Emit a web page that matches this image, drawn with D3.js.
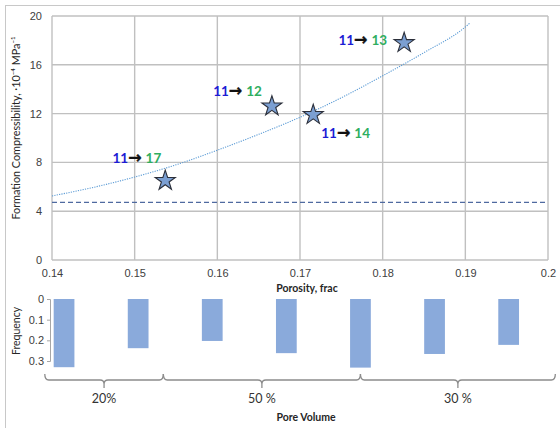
<!DOCTYPE html>
<html>
<head>
<meta charset="utf-8">
<script src="https://cdn.jsdelivr.net/npm/d3@7"></script>
<style>
  html, body { margin: 0; padding: 0; background: #fff; }
  svg { display: block; font-family: Lato, "Open Sans", "Liberation Sans", sans-serif; }
</style>
</head>
<body>
<svg id="chart" width="560" height="428"></svg>
<script>
// ---- data ----
const porosityTicks = [0.14, 0.15, 0.16, 0.17, 0.18, 0.19, 0.2];
const porosityTickLabels = ["0.14", "0.15", "0.16", "0.17", "0.18", "0.19", "0.2"];
const compTicks = [0, 4, 8, 12, 16, 20];

// measured samples (stars)
const samplePorosity = [0.1537, 0.1666, 0.1716, 0.1826];
const sampleComp = [6.5, 12.6, 11.9, 17.8];
const sampleFrom = ["11", "11", "11", "11"];
const sampleTo = ["17", "12", "14", "13"];

// trend curve
const trendPorosity = [0.14, 0.145, 0.15, 0.155, 0.16, 0.165, 0.17, 0.175, 0.18, 0.185, 0.19, 0.1906];
const trendComp = [5.25, 5.95, 6.8, 7.8, 9.0, 10.3, 11.7, 13.3, 15.1, 17.0, 19.1, 19.45];

// reference level
const baselineComp = 4.73;

// frequency histogram
const freqBins = ["1", "2", "3", "4", "5", "6", "7"];
const freqValues = [0.33, 0.238, 0.203, 0.262, 0.332, 0.266, 0.222];
const freqTicks = [0, 0.1, 0.2, 0.3];
const freqTickLabels = ["0", "0.1", "0.2", "0.3"];

// pore volume groups
const poreGroups = ["20%", "50 %", "30 %"];

// ---- layout ----
const svg = d3.select("#chart");
const gridColor = "#c0c0c0";
const textColor = "#404040";

// outer frame
svg.append("rect").attr("x", 5.5).attr("y", 5.5).attr("width", 600).attr("height", 600)
  .attr("fill", "none").attr("stroke", "#c8c8c8").attr("stroke-width", 1);

const x = d3.scaleLinear().domain([0.14, 0.2]).range([52, 548]);
const y = d3.scaleLinear().domain([0, 20]).range([260, 16]);

// grid
const grid = svg.append("g");
grid.selectAll("line.v").data(porosityTicks).join("line")
  .attr("x1", d => x(d)).attr("x2", d => x(d)).attr("y1", y(20)).attr("y2", y(0))
  .attr("stroke", gridColor).attr("stroke-width", 1.4);
grid.selectAll("line.h").data(compTicks).join("line")
  .attr("x1", x(0.14)).attr("x2", x(0.2)).attr("y1", d => y(d)).attr("y2", d => y(d))
  .attr("stroke", gridColor).attr("stroke-width", 1.4);

// axes (labels only)
const xAxis = d3.axisBottom(x).tickValues(porosityTicks)
  .tickFormat((d, i) => porosityTickLabels[i]).tickSize(0).tickPadding(9);
const gx = svg.append("g").attr("transform", `translate(0,${y(0)})`).call(xAxis);
gx.select(".domain").remove();
gx.selectAll("text").attr("fill", textColor).attr("font-size", 11);

const yAxis = d3.axisLeft(y).tickValues(compTicks).tickSize(0).tickPadding(10);
const gy = svg.append("g").attr("transform", `translate(${x(0.14)},0)`).call(yAxis);
gy.select(".domain").remove();
gy.selectAll("text").attr("fill", textColor).attr("font-size", 11);

// axis titles
svg.append("text").attr("x", 307).attr("y", 292).attr("text-anchor", "middle")
  .attr("font-size", 10.5).attr("font-weight", "bold").attr("fill", "#262626")
  .text("Porosity, frac");
svg.append("text").attr("transform", "translate(20,128) rotate(-90)")
  .attr("text-anchor", "middle").attr("font-size", 10.8).attr("fill", "#262626")
  .text("Formation Compressibility, ·10⁻⁴ MPa⁻¹");

// reference dashed level
svg.append("line").attr("x1", x(0.14)).attr("x2", x(0.2))
  .attr("y1", y(baselineComp)).attr("y2", y(baselineComp))
  .attr("stroke", "#4f6aa0").attr("stroke-width", 1.3).attr("stroke-dasharray", "5,3");

// trend curve
const trend = trendPorosity.map((p, i) => [p, trendComp[i]]);
svg.append("path").datum(trend)
  .attr("d", d3.line().x(d => x(d[0])).y(d => y(d[1])).curve(d3.curveMonotoneX))
  .attr("fill", "none").attr("stroke", "#5b9bd5").attr("stroke-width", 1.1)
  .attr("stroke-dasharray", "1.2,1.2");

// stars
const samples = samplePorosity.map((p, i) => ({ p, c: sampleComp[i], from: sampleFrom[i], to: sampleTo[i] }));
const star = d3.symbol().type(d3.symbolStar).size(125);
svg.selectAll("path.star").data(samples).join("path")
  .attr("class", "star")
  .attr("transform", d => `translate(${x(d.p)},${y(d.c)})`)
  .attr("d", star)
  .attr("fill", "#7b9fd2").attr("stroke", "#2b2f3a").attr("stroke-width", 1.1);

// transition labels: placement around each star
const labelPlace = {
  "17": { dx: -4, dy: -22, anchor: "end" },
  "12": { dx: -10, dy: -15, anchor: "end" },
  "13": { dx: -17, dy: -3, anchor: "end" },
  "14": { dx: 8, dy: 18, anchor: "start" }
};
const lab = svg.selectAll("text.trans").data(samples).join("text")
  .attr("class", "trans")
  .attr("x", d => x(d.p) + labelPlace[d.to].dx)
  .attr("y", d => y(d.c) + labelPlace[d.to].dy)
  .attr("dy", "0.35em")
  .attr("text-anchor", d => labelPlace[d.to].anchor)
  .attr("font-size", 13.5).attr("font-weight", "bold");
lab.append("tspan").attr("fill", "#1c1cd4").text(d => d.from);
lab.append("tspan").attr("fill", "#111").attr("font-family", "DejaVu Sans")
  .attr("font-size", 16).attr("font-weight", "bold").attr("stroke", "#111").attr("stroke-width", 0.4)
  .text("→");
lab.append("tspan").attr("fill", "#2fae5f").attr("dx", 4).text(d => d.to);

// ---- frequency panel ----
const bx = d3.scaleBand().domain(freqBins).range([27, 545.7])
  .paddingInner(0.72).paddingOuter(0.36);
const fy = d3.scaleLinear().domain([0, 0.3]).range([299, 361]);

svg.selectAll("rect.bar").data(freqValues).join("rect")
  .attr("class", "bar")
  .attr("x", (d, i) => bx(freqBins[i]))
  .attr("width", bx.bandwidth())
  .attr("y", fy(0))
  .attr("height", d => fy(d) - fy(0))
  .attr("fill", "#8aaadb");

const fAxis = d3.axisLeft(fy).tickValues(freqTicks)
  .tickFormat((d, i) => freqTickLabels[i]).tickSize(3).tickPadding(3);
const gf = svg.append("g").attr("transform", "translate(50,0)").call(fAxis);
gf.select(".domain").attr("stroke", "#a6a6a6");
gf.selectAll(".tick line").attr("stroke", "#a6a6a6");
gf.selectAll("text").attr("fill", textColor).attr("font-size", 11);

svg.append("text").attr("transform", "translate(20,331) rotate(-90)")
  .attr("text-anchor", "middle").attr("font-size", 10.5).attr("fill", "#262626")
  .text("Frequency");

// braces grouping the bins by pore volume
const binCenter = d3.scaleLinear().domain([0, 6]).range([bx("1") + bx.bandwidth() / 2, bx("7") + bx.bandwidth() / 2]);
const braceStops = [-0.26, 1.34, 4.0, 6.63];
const braceY = 380;
const braces = poreGroups.map((g, i) => ({ g, a: binCenter(braceStops[i]), b: binCenter(braceStops[i + 1]) }));
const bracePath = d => {
  const m = (d.a + d.b) / 2, r = 4, y0 = braceY;
  return `M${d.a},${y0 - 6} Q${d.a},${y0} ${d.a + r},${y0} L${m - r},${y0} Q${m},${y0} ${m},${y0 + r} L${m},${y0 + 8}` +
         ` M${m},${y0 + r} Q${m},${y0} ${m + r},${y0} L${d.b - r},${y0} Q${d.b},${y0} ${d.b},${y0 - 6}`;
};
svg.selectAll("path.brace").data(braces).join("path")
  .attr("class", "brace").attr("d", bracePath)
  .attr("fill", "none").attr("stroke", "#8c8c8c").attr("stroke-width", 1.3);
svg.selectAll("text.group").data(braces).join("text")
  .attr("class", "group")
  .attr("x", d => (d.a + d.b) / 2).attr("y", 399).attr("dy", "0.35em")
  .attr("text-anchor", "middle").attr("font-size", 12.5).attr("fill", "#333")
  .text(d => d.g);

svg.append("text").attr("x", 306).attr("y", 417).attr("dy", "0.35em").attr("text-anchor", "middle")
  .attr("font-size", 10.5).attr("font-weight", "bold").attr("fill", "#262626")
  .text("Pore Volume");
</script>
</body>
</html>
